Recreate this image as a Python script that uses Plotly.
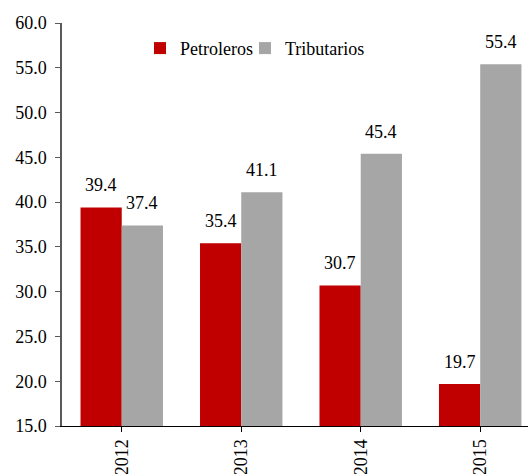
import plotly.graph_objects as go

years = ["2012", "2013", "2014", "2015"]
petroleros = [39.4, 35.4, 30.7, 19.7]
tributarios = [37.4, 41.1, 45.4, 55.4]
yticks = [15, 20, 25, 30, 35, 40, 45, 50, 55, 60]

RED = "#C00000"
GRAY = "#A6A6A6"
FONT = "Liberation Serif, Times New Roman, serif"
FS = 18

fig = go.Figure()
fig.add_trace(go.Bar(name="Petroleros", x=years, y=petroleros, marker_color=RED,
                     marker_line_width=0, legend="legend"))
fig.add_trace(go.Bar(name="Tributarios", x=years, y=tributarios, marker_color=GRAY,
                     marker_line_width=0, legend="legend2"))

annotations = []
for i, yr in enumerate(years):
    for val, xs in ((petroleros[i], -20.5), (tributarios[i], 20.5)):
        annotations.append(dict(
            x=i, y=val, xref="x", yref="y", text=f"{val:.1f}", showarrow=False,
            xshift=xs, yshift=10, yanchor="bottom", xanchor="center",
            font=dict(family=FONT, size=FS, color="black")))

leg_common = dict(orientation="h", yanchor="middle", xanchor="left",
                  font=dict(family=FONT, size=FS, color="black"),
                  bgcolor="rgba(0,0,0,0)", borderwidth=0)

fig.update_layout(
    width=528, height=474,
    margin=dict(l=62, r=0, t=23, b=48, autoexpand=False),
    paper_bgcolor="white", plot_bgcolor="white",
    barmode="group", bargap=0.31, bargroupgap=0,
    font=dict(family=FONT, size=FS, color="black"),
    showlegend=True,
    legend=dict(x=(140 - 62) / 466, y=0.937, **leg_common),
    legend2=dict(x=(245 - 62) / 466, y=0.937, **leg_common),
    annotations=annotations,
)
fig.update_xaxes(
    type="category", range=[-0.5, 3.4], showline=True, linecolor="black", linewidth=1,
    ticks="outside", ticklen=5, tickcolor="black", tickangle=-90, showgrid=False,
    tickfont=dict(family=FONT, size=FS), automargin=False,
)
fig.update_yaxes(
    range=[15, 60], tickvals=yticks, ticktext=[f"{v:.1f}" for v in yticks],
    showline=True, linecolor="#595959", linewidth=1.5, ticks="outside", ticklen=5,
    tickcolor="#595959", showgrid=False, zeroline=False, ticklabelstandoff=5,
    tickfont=dict(family=FONT, size=FS), automargin=False,
)

fig.write_html("out.html", config={"displayModeBar": False},
               post_script="document.body.style.margin='0';")
